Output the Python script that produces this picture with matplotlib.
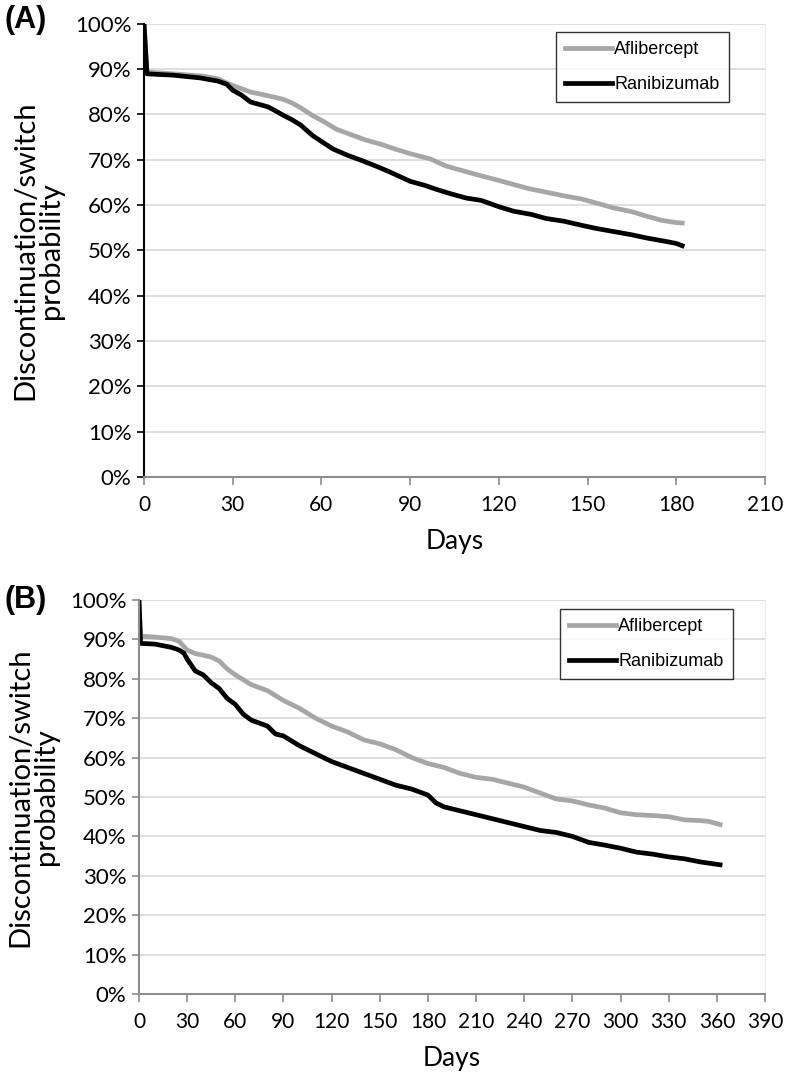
import matplotlib
matplotlib.use("Agg")
import matplotlib.pyplot as plt
from matplotlib.ticker import FuncFormatter

# ---------------- data ----------------
# Panel A (0-180 days)
a_days_afl = [0, 1, 10, 20, 25, 29, 33, 36, 41, 47, 50, 53, 57, 61, 65, 70, 75, 80, 85, 90, 97, 102,
              108, 114, 120, 125, 130, 136, 142, 148, 153, 159, 165, 170, 175, 180, 182]
a_prob_afl = [100, 89.3, 88.9, 88.4, 87.8, 86.6, 85.6, 84.9, 84.2, 83.3, 82.5, 81.4, 79.7, 78.3, 76.7,
              75.5, 74.3, 73.4, 72.3, 71.3, 70.1, 68.6, 67.5, 66.4, 65.4, 64.5, 63.6, 62.8, 62.0,
              61.3, 60.4, 59.3, 58.5, 57.5, 56.6, 56.1, 56.0]
a_days_ran = [0, 1, 10, 19, 25, 28, 30, 33, 36, 42, 44, 47, 50, 53, 57, 60, 64, 69, 74, 79, 83, 86,
              90, 95, 99, 104, 109, 114, 120, 125, 131, 136, 142, 148, 153, 159, 165, 170, 176, 180, 182]
a_prob_ran = [100, 88.9, 88.6, 88.0, 87.3, 86.6, 85.3, 84.2, 82.7, 81.6, 80.9, 79.8, 78.8, 77.6, 75.3,
              74.0, 72.3, 70.9, 69.7, 68.4, 67.3, 66.4, 65.2, 64.3, 63.4, 62.4, 61.5, 61.0, 59.6,
              58.6, 57.9, 57.0, 56.4, 55.5, 54.8, 54.1, 53.4, 52.7, 52.0, 51.5, 51.0]

# Panel B (0-362 days)
b_days_afl = [0, 1, 10, 20, 25, 30, 35, 40, 45, 50, 55, 60, 70, 80, 90, 100, 110, 120, 130, 140, 150,
              160, 170, 180, 190, 200, 210, 220, 230, 240, 250, 260, 270, 280, 290, 300, 310, 320,
              330, 340, 350, 355, 362]
b_prob_afl = [100, 90.8, 90.6, 90.2, 89.5, 87.3, 86.4, 86.0, 85.5, 84.5, 82.5, 81.0, 78.5, 77.0, 74.5,
              72.5, 70.0, 68.0, 66.5, 64.5, 63.5, 62.0, 60.0, 58.5, 57.5, 56.0, 55.0, 54.5, 53.5,
              52.5, 51.0, 49.5, 49.0, 48.0, 47.2, 46.0, 45.5, 45.3, 45.0, 44.2, 44.0, 43.8, 43.0]
b_days_ran = [0, 1, 10, 20, 25, 28, 30, 35, 40, 45, 50, 55, 60, 65, 70, 80, 85, 90, 100, 110, 120, 130,
              140, 150, 160, 170, 180, 185, 190, 200, 210, 220, 230, 240, 250, 260, 270, 280, 290,
              300, 310, 320, 330, 340, 350, 362]
b_prob_ran = [100, 89.0, 88.8, 88.0, 87.3, 86.5, 85.0, 82.0, 81.0, 79.0, 77.5, 75.0, 73.5, 71.0, 69.5,
              68.0, 66.0, 65.5, 63.0, 61.0, 59.0, 57.5, 56.0, 54.5, 53.0, 52.0, 50.5, 48.5, 47.5,
              46.5, 45.5, 44.5, 43.5, 42.5, 41.5, 41.0, 40.0, 38.5, 37.8, 37.0, 36.0, 35.5, 34.8,
              34.3, 33.5, 32.8]

series_names = ["Aflibercept", "Ranibizumab"]
series_colors = ["#a6a6a6", "#000000"]
y_ticks = [0, 10, 20, 30, 40, 50, 60, 70, 80, 90, 100]
a_xticks = [0, 30, 60, 90, 120, 150, 180, 210]
b_xticks = list(range(0, 391, 30))
ylabel_text = "Discontinuation/switch\nprobability"
xlabel_text = "Days"

# ---------------- plot ----------------
tick_font = "Lato"
fig = plt.figure(figsize=(7.86, 10.83), dpi=100)

axA = fig.add_axes([144/786, 1-477/1083, 621/786, 453.5/1083])
axB = fig.add_axes([139/786, 1-994/1083, 626/786, 394/1083])

panels = [
    (axA, a_days_afl, a_prob_afl, a_days_ran, a_prob_ran, a_xticks, 210, "black",
     (0.663, 0.981), 15),
    (axB, b_days_afl, b_prob_afl, b_days_ran, b_prob_ran, b_xticks, 390, "#8c8c8c",
     (0.672, 0.977), 15),
]

for ax, dA, pA, dR, pR, xt, xmax, leftcol, legpos, xls in panels:
    ax.plot(dA, pA, color=series_colors[0], lw=3.4, label=series_names[0], solid_joinstyle="round")
    ax.plot(dR, pR, color=series_colors[1], lw=3.4, label=series_names[1], solid_joinstyle="round")
    ax.set_xlim(0, xmax)
    ax.set_ylim(0, 100)
    ax.set_yticks(y_ticks)
    ax.set_xticks(xt)
    ax.yaxis.set_major_formatter(FuncFormatter(lambda v, p: f"{int(v)}%"))
    ax.grid(axis="y", color="#d9d9d9", lw=1.2)
    ax.set_axisbelow(True)
    ax.spines["top"].set_visible(False)
    ax.spines["right"].set_color("#ececec")
    ax.spines["bottom"].set_color("#8c8c8c")
    ax.spines["bottom"].set_linewidth(1.5)
    ax.spines["left"].set_color(leftcol)
    ax.spines["left"].set_linewidth(1.5)
    ax.tick_params(axis="x", direction="out", length=6, width=1.2, color="#8c8c8c", pad=7,
                   labelsize=xls)
    ax.tick_params(axis="y", direction="out", length=5, width=1.2, color=leftcol, pad=4,
                   labelsize=16)
    for lab in ax.get_xticklabels() + ax.get_yticklabels():
        lab.set_fontfamily(tick_font)
    ax.set_xlabel(xlabel_text, fontsize=19, fontfamily=tick_font, labelpad=10)
    ax.set_ylabel(ylabel_text, fontsize=21, fontfamily=tick_font, labelpad=8, linespacing=1.0)
    leg = ax.legend(loc="upper left", bbox_to_anchor=legpos, borderaxespad=0,
                    prop={"family": "Liberation Sans", "size": 13}, frameon=True, fancybox=False,
                    handlelength=2.6, handletextpad=0.15, labelspacing=1.0, borderpad=0.5)
    leg.get_frame().set_edgecolor("black")
    leg.get_frame().set_linewidth(1.0)

fig.text(5/786, 1-20/1083, "(A)", fontsize=22, fontweight="bold", family="Liberation Sans",
         va="center", ha="left")
fig.text(5/786, 1-600/1083, "(B)", fontsize=22, fontweight="bold", family="Liberation Sans",
         va="center", ha="left")

fig.savefig("out.png", dpi=100)
